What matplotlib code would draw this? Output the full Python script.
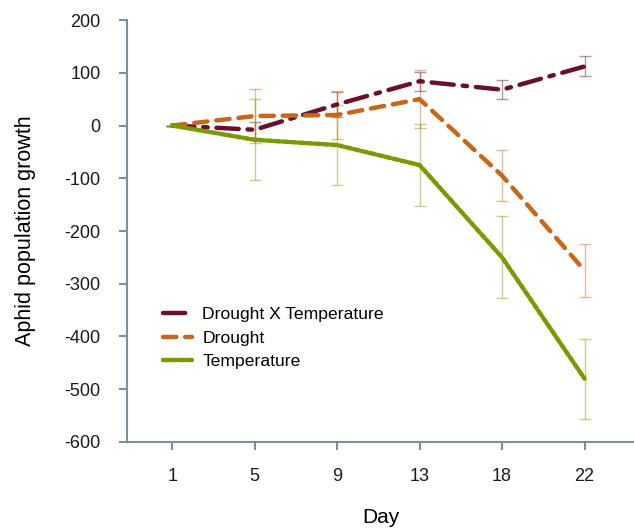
import matplotlib
matplotlib.use("Agg")
import matplotlib.pyplot as plt

plt.rcParams['font.family'] = ['Liberation Sans', 'DejaVu Sans']
plt.rcParams['axes.unicode_minus'] = False

days = ["1", "5", "9", "13", "18", "22"]
dxt = [0, -8, 40, 84, 68, 112]
dxt_err = [0, 15, 23, 18, 18, 19]
drought = [0, 18, 20, 50, -95, -275]
drought_err = [0, 52, 46, 55, 49, 51]
temp = [0, -27, -37, -75, -250, -480]
temp_err = [0, 77, 76, 77, 78, 76]

C_DXT = "#6b0f2a"
C_DR = "#c8661a"
C_TE = "#7a9a01"
SPINE = "#7f8e9c"

fig = plt.figure(figsize=(6.34, 5.28), dpi=100)
ax = fig.add_axes([0.2, 0.163, 0.8, 0.799])
x = list(range(len(days)))

def series(vals, errs, color, ls, label):
    ax.errorbar(x, vals, yerr=errs, fmt="none", ecolor=color, alpha=0.45,
                elinewidth=1, capsize=4, capthick=1, zorder=2)
    ax.plot(x, vals, color=color, ls=ls, lw=3.2, label=label, zorder=3,
            dash_capstyle="round", solid_capstyle="round")

series(dxt, dxt_err, C_DXT, (0, (5, 2, 1, 2)), "Drought X Temperature")
series(drought, drought_err, C_DR, (0, (3, 2)), "Drought")
series(temp, temp_err, C_TE, (0, (1.2, 0.6)), "Temperature")

ax.set_xlim(-0.55, 5.6)
ax.set_ylim(-600, 200)
ax.set_yticks(range(-600, 201, 100))
ax.set_xticks(x)
ax.set_xticklabels(days)
ax.tick_params(axis="both", labelsize=13, color=SPINE, width=1.5, length=6,
               labelcolor="#1a1a1a")
ax.tick_params(axis="y", pad=13)
ax.tick_params(axis="x", pad=13)
for s in ["top", "right"]:
    ax.spines[s].set_visible(False)
for s in ["left", "bottom"]:
    ax.spines[s].set_color(SPINE)
    ax.spines[s].set_linewidth(1.5)

ax.set_ylabel("Aphid population growth", fontsize=15.5, labelpad=20)
ax.set_xlabel("Day", fontsize=15, labelpad=16)

ax.legend(loc="center left", bbox_to_anchor=(0.058, 0.246), frameon=False,
          borderaxespad=0, fontsize=12.6, handlelength=1.66,
          labelspacing=0.46, handletextpad=0.57)

fig.savefig("out.png", dpi=100, facecolor="white")
